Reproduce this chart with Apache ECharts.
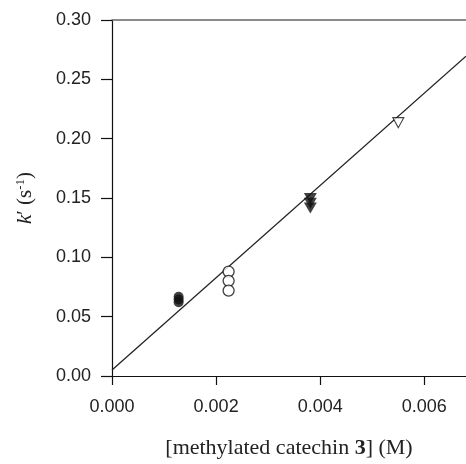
<!DOCTYPE html>
<html>
<head>
<meta charset="utf-8">
<script src="https://cdn.jsdelivr.net/npm/echarts@6/dist/echarts.min.js"></script>
<style>html,body{margin:0;padding:0;background:#fff}#c{width:466px;height:464px}</style>
</head>
<body>
<div id="c"></div>
<script>
// Data
var filledCircleX = [0.00128, 0.00128, 0.00128];
var filledCircleY = [0.0622, 0.0645, 0.0668];
var openCircleX = [0.00224, 0.00224, 0.00224];
var openCircleY = [0.0880, 0.0802, 0.0720];
var filledTriX = [0.00381, 0.00381, 0.00381];
var filledTriY = [0.1495, 0.1455, 0.1415];
var openTriX = [0.0055];
var openTriY = [0.2135];
var fitX = [0.0, 0.0068];
var fitY = [0.005, 0.2695];
var xTicks = [0, 0.002, 0.004, 0.006];

function pairs(xs, ys){ return xs.map(function(x,i){ return [x, ys[i]]; }); }

var chart = echarts.init(document.getElementById('c'), null, {renderer:'canvas'});
var txt = '#222';
chart.setOption({
  animation:false,
  grid:{left:112, right:0, top:20, bottom:81, containLabel:false},
  xAxis:[{
    type:'value', min:0, max:0.0068, interval:0.002,
    axisLine:{show:true, onZero:false, lineStyle:{color:'#111', width:1.2}},
    axisTick:{show:true, inside:false, length:9, lineStyle:{color:'#111', width:1.2}, customValues:xTicks},
    axisLabel:{color:txt, fontFamily:'Liberation Sans', fontSize:18, margin:22, customValues:xTicks,
      formatter:function(v){return v.toFixed(3);}},
    splitLine:{show:false},
    name:'[methylated catechin {b|3}] (M)', nameLocation:'middle', nameGap:61,
    nameTextStyle:{color:txt, fontFamily:'Liberation Serif', fontSize:22,
      rich:{b:{fontFamily:'Liberation Serif', fontSize:22, fontWeight:'bold', color:txt}}}
  },{
    type:'value', position:'top', min:0, max:0.0068,
    axisLine:{show:true, onZero:false, lineStyle:{color:'#666', width:1.6}},
    axisTick:{show:false}, axisLabel:{show:false}, splitLine:{show:false}
  }],
  yAxis:{
    type:'value', min:0, max:0.30, interval:0.05,
    axisLine:{show:true, onZero:false, lineStyle:{color:'#111', width:1.2}},
    axisTick:{show:true, inside:false, length:11, lineStyle:{color:'#111', width:1.2}},
    axisLabel:{color:txt, fontFamily:'Liberation Sans', fontSize:18, margin:21,
      formatter:function(v){return v.toFixed(2);}},
    splitLine:{show:false},
    name:'{i|k}{n|\u2032 (s}{sup|-1}{n|)}', nameLocation:'middle', nameGap:76, nameRotate:90,
    nameTextStyle:{color:txt, rich:{
      i:{fontFamily:'Liberation Serif', fontSize:21, fontStyle:'italic', color:txt, lineHeight:22},
      n:{fontFamily:'Liberation Serif', fontSize:21, color:txt, lineHeight:22},
      sup:{fontFamily:'Liberation Serif', fontSize:13, color:txt, verticalAlign:'top', lineHeight:22, padding:[0,0,8,0]}
    }}
  },
  series:[
    {type:'line', data:pairs(fitX, fitY), symbol:'none', lineStyle:{color:'#222', width:1.3}, silent:true, z:1},
    {type:'scatter', data:pairs(filledCircleX, filledCircleY), symbol:'circle', symbolSize:10,
      itemStyle:{color:'#111'}, z:3},
    {type:'scatter', data:pairs(openCircleX, openCircleY), symbol:'circle', symbolSize:11,
      itemStyle:{color:'#fff', borderColor:'#111', borderWidth:1.3}, z:3},
    {type:'scatter', data:pairs(filledTriX, filledTriY), symbol:'triangle', symbolRotate:180, symbolSize:[13,11],
      itemStyle:{color:'#111'}, z:3},
    {type:'scatter', data:pairs(openTriX, openTriY), symbol:'triangle', symbolRotate:180, symbolSize:[11,10],
      itemStyle:{color:'#fff', borderColor:'#111', borderWidth:1.1}, z:3}
  ]
});
</script>
</body>
</html>
